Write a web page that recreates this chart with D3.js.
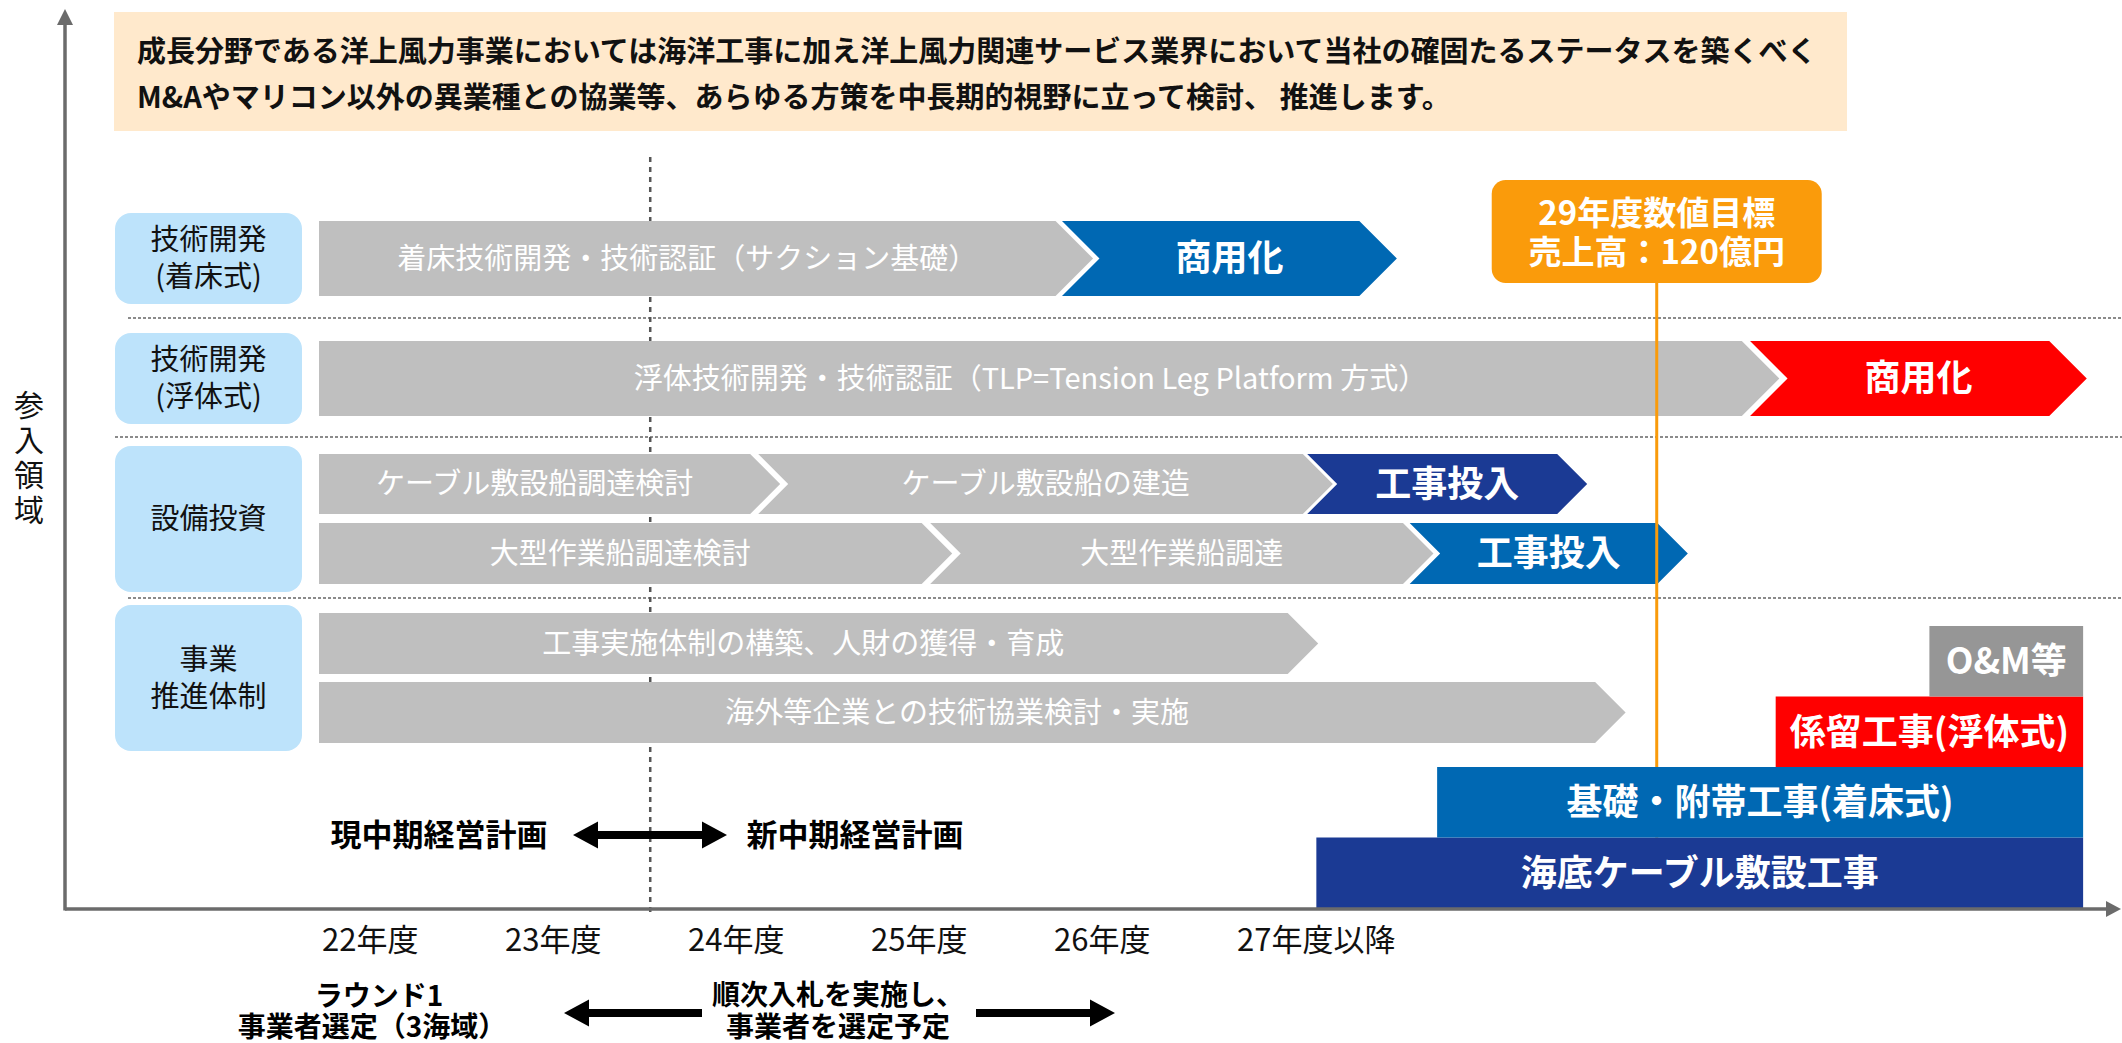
<!DOCTYPE html>
<html>
<head>
<meta charset="utf-8">
<script src="https://cdn.jsdelivr.net/npm/d3@7"></script>
<style>
  body { margin: 0; background: #fff; }
  svg { display: block; font-family: "Noto Sans CJK JP", "Noto Sans", sans-serif; }
</style>
</head>
<body>
<svg id="chart" width="2122" height="1043"></svg>
<script>
const headline = [
  '成長分野である洋上風力事業においては海洋工事に加え洋上風力関連サービス業界において当社の確固たるステータスを築くべく',
  'M&Aやマリコン以外の異業種との協業等、あらゆる方策を中長期的視野に立って検討、 推進します。'
];
const yearValues = [22, 23, 24, 25, 26, 27];
const yearLabels = ['22年度', '23年度', '24年度', '25年度', '26年度', '27年度以降'];

const lanes = ['fixed', 'floating', 'cableShip', 'workShip', 'org', 'partner'];
const groupLabels = [['技術開発', '(着床式)'], ['技術開発', '(浮体式)'], ['設備投資'], ['事業', '推進体制']];
const groupLanes = [['fixed', 'fixed'], ['floating', 'floating'], ['cableShip', 'workShip'], ['org', 'partner']];

// from / to in fiscal-year units (to = arrow tip)
const segments = [
  {lane: 'fixed', text: '着床技術開発・技術認証（サクション基礎）', from: 22, to: 26.23, kind: 'study'},
  {lane: 'fixed', text: '商用化', from: 26.06, to: 27.89, kind: 'fixedGo'},
  {lane: 'floating', text: '浮体技術開発・技術認証（TLP=Tension Leg Platform 方式）', from: 22, to: 29.98, kind: 'study'},
  {lane: 'floating', text: '商用化', from: 29.82, to: 31.66, kind: 'floatGo'},
  {lane: 'cableShip', text: 'ケーブル敷設船調達検討', from: 22, to: 24.52, kind: 'study'},
  {lane: 'cableShip', text: 'ケーブル敷設船の建造', from: 24.40, to: 27.54, kind: 'study'},
  {lane: 'cableShip', text: '工事投入', from: 27.40, to: 28.93, kind: 'cableGo'},
  {lane: 'workShip', text: '大型作業船調達検討', from: 22, to: 25.46, kind: 'study'},
  {lane: 'workShip', text: '大型作業船調達', from: 25.34, to: 28.09, kind: 'study'},
  {lane: 'workShip', text: '工事投入', from: 27.96, to: 29.48, kind: 'fixedGo'},
  {lane: 'org', text: '工事実施体制の構築、人財の獲得・育成', from: 22, to: 27.46, kind: 'study'},
  {lane: 'partner', text: '海外等企業との技術協業検討・実施', from: 22, to: 29.14, kind: 'study'}
];

// business stack at the bottom right (level 0 = on the axis)
const stackText = ['海底ケーブル敷設工事', '基礎・附帯工事(着床式)', '係留工事(浮体式)', 'O&M等'];
const stackFrom = [27.45, 28.11, 29.96, 30.80];
const stackTo = [31.64, 31.64, 31.64, 31.64];
const stackKind = ['cableGo', 'fixedGo', 'floatGo', 'om'];

const targetYear = 29.31;
const targetLines = ['29年度数値目標', '売上高：120億円'];
const planSplitYear = 23.81;

// --- layout ---
const svg = d3.select('#chart');
const x = d3.scaleLinear().domain([22, 27]).range([319, 1234]);
const laneTop = d3.scaleOrdinal().domain(lanes).range([221, 341, 454, 523, 613, 682]);
const laneH = d3.scaleOrdinal().domain(lanes).range([75, 75, 60, 61, 61, 61]);
const level = d3.scaleLinear().domain([0, 4]).range([908, 626]);
const color = d3.scaleOrdinal()
  .domain(['study', 'fixedGo', 'floatGo', 'cableGo', 'om'])
  .range(['#bfbfbf', '#0068b3', '#ff0000', '#1b3a94', '#969696']);
const axisY = 909, axisX = 65;

function chevron(x0, x1, top, h, notch) {
  const d = h * 0.5, m = top + h / 2;
  return notch
    ? `M${x0},${top}L${x1 - d},${top}L${x1},${m}L${x1 - d},${top + h}L${x0},${top + h}L${x0 + d},${m}Z`
    : `M${x0},${top}L${x1 - d},${top}L${x1},${m}L${x1 - d},${top + h}L${x0},${top + h}Z`;
}

// headline box
svg.append('rect').attr('x', 114).attr('y', 12).attr('width', 1733).attr('height', 119).attr('fill', '#ffe9cc');
svg.append('g').selectAll('text').data(headline).join('text')
  .attr('x', 137).attr('y', (d, i) => 52 + i * 46)
  .attr('dy', '0.36em')
  .attr('font-size', 29).attr('font-weight', 'bold').attr('fill', '#111')
  .text(d => d);

// dashed separators between groups
const sepY = [318, 437, 598];
svg.append('g').selectAll('line').data(sepY).join('line')
  .attr('x1', (d, i) => i === 1 ? 115 : 128).attr('x2', 2122)
  .attr('y1', d => d).attr('y2', d => d)
  .attr('stroke', '#666').attr('stroke-width', 1.5).attr('stroke-dasharray', '3,2');

// plan split (dotted vertical)
svg.append('line')
  .attr('x1', x(planSplitYear)).attr('x2', x(planSplitYear))
  .attr('y1', 157).attr('y2', 914)
  .attr('stroke', '#555').attr('stroke-width', 2.5).attr('stroke-dasharray', '5,5');

// group label boxes
const gl = svg.append('g').selectAll('g').data(groupLabels).join('g');
gl.append('rect')
  .attr('x', 115).attr('width', 187).attr('rx', 16)
  .attr('y', (d, i) => laneTop(groupLanes[i][0]) - 8)
  .attr('height', (d, i) => laneTop(groupLanes[i][1]) + laneH(groupLanes[i][1]) + 8 - (laneTop(groupLanes[i][0]) - 8))
  .attr('fill', '#bde3fb');
gl.each(function (d, i) {
  const top = laneTop(groupLanes[i][0]) - 8;
  const bot = laneTop(groupLanes[i][1]) + laneH(groupLanes[i][1]) + 8;
  const mid = (top + bot) / 2;
  d3.select(this).selectAll('text').data(d).join('text')
    .attr('x', 208.5)
    .attr('y', (t, j) => mid + (j - (d.length - 1) / 2) * 37)
    .attr('dy', '0.36em').attr('text-anchor', 'middle')
    .attr('font-size', 29).attr('fill', '#111')
    .text(t => t);
});

// roadmap arrows
const seg = svg.append('g').selectAll('g').data(segments).join('g');
seg.append('path')
  .attr('d', d => chevron(x(d.from), x(d.to), laneTop(d.lane), laneH(d.lane), d.from > 22))
  .attr('fill', d => color(d.kind));
seg.append('text')
  .attr('x', d => d.from > 22 ? (x(d.from) + x(d.to)) / 2 : (x(d.from) + x(d.to) - laneH(d.lane) / 2) / 2)
  .attr('y', d => laneTop(d.lane) + laneH(d.lane) / 2)
  .attr('dy', '0.36em').attr('text-anchor', 'middle')
  .attr('fill', '#fff')
  .attr('font-size', d => d.kind === 'study' ? 29 : 36)
  .attr('font-weight', d => d.kind === 'study' ? 'normal' : 'bold')
  .text(d => d.text);

// target line + box
svg.append('line')
  .attr('x1', x(targetYear)).attr('x2', x(targetYear))
  .attr('y1', 283).attr('y2', level(1))
  .attr('stroke', '#f99b0b').attr('stroke-width', 3);
svg.append('rect')
  .attr('x', x(targetYear) - 165).attr('y', 180).attr('width', 330).attr('height', 103).attr('rx', 14)
  .attr('fill', '#fa9b0b');
svg.append('g').selectAll('text').data(targetLines).join('text')
  .attr('x', x(targetYear)).attr('y', (d, i) => 213 + i * 39)
  .attr('dy', '0.36em').attr('text-anchor', 'middle')
  .attr('font-size', 33).attr('font-weight', 'bold').attr('fill', '#fff')
  .text(d => d);

// business stack
const st = svg.append('g').selectAll('g').data(stackText).join('g');
st.append('rect')
  .attr('x', (d, i) => x(stackFrom[i]))
  .attr('width', (d, i) => x(stackTo[i]) - x(stackFrom[i]))
  .attr('y', (d, i) => level(i + 1))
  .attr('height', (d, i) => level(i) - level(i + 1))
  .attr('fill', (d, i) => color(stackKind[i]));
st.append('text')
  .attr('x', (d, i) => (x(stackFrom[i]) + x(stackTo[i])) / 2)
  .attr('y', (d, i) => (level(i) + level(i + 1)) / 2)
  .attr('dy', '0.36em').attr('text-anchor', 'middle')
  .attr('font-size', 36).attr('font-weight', 'bold').attr('fill', '#fff')
  .text(d => d);

// axes
svg.append('line').attr('x1', axisX).attr('x2', axisX).attr('y1', axisY + 1.5).attr('y2', 22)
  .attr('stroke', '#6b6b6b').attr('stroke-width', 3.5);
svg.append('path').attr('d', `M${axisX},9L${axisX - 8},25L${axisX + 8},25Z`).attr('fill', '#6b6b6b');
svg.append('line').attr('x1', axisX).attr('x2', 2108).attr('y1', axisY).attr('y2', axisY)
  .attr('stroke', '#6b6b6b').attr('stroke-width', 3.5);
svg.append('path').attr('d', `M2121,${axisY}L2106,${axisY - 8}L2106,${axisY + 8}Z`).attr('fill', '#6b6b6b');

// vertical axis title, set in vertical writing
svg.append('text')
  .attr('x', 29).attr('y', 390)
  .attr('font-size', 30).attr('fill', '#111')
  .style('writing-mode', 'vertical-rl').style('text-orientation', 'upright')
  .attr('letter-spacing', 5)
  .text('参入領域');

svg.append('g').selectAll('text').data(yearLabels).join('text')
  .attr('x', (d, i) => x(yearValues[i]) + 3)
  .attr('y', 940).attr('dy', '0.36em')
  .attr('font-size', 31).attr('fill', '#111')
  .text(d => d);

// plan / bidding annotations
function arrow(x1, x2, y, both) {
  const hl = 25, hw = 13.5, sw = 4;
  const dir = Math.sign(x2 - x1);
  const b2 = x2 - dir * hl, b1 = both ? x1 + dir * hl : x1;
  let p = `M${x2},${y}L${b2},${y - hw}L${b2},${y - sw}L${b1},${y - sw}`;
  p += both ? `L${b1},${y - hw}L${x1},${y}L${b1},${y + hw}` : '';
  p += `L${b1},${y + sw}L${b2},${y + sw}L${b2},${y + hw}Z`;
  return p;
}
svg.append('path').attr('d', arrow(573, 727, 835, true)).attr('fill', '#000');
svg.append('path').attr('d', arrow(702, 564, 1013, false)).attr('fill', '#000');
svg.append('path').attr('d', arrow(976, 1115, 1013, false)).attr('fill', '#000');

const notes = [
  {t: '現中期経営計画', x: 439, y: 835, s: 31},
  {t: '新中期経営計画', x: 855, y: 835, s: 31},
  {t: 'ラウンド1', x: 379, y: 996, s: 28},
  {t: '事業者選定（3海域）', x: 372, y: 1027, s: 28},
  {t: '順次入札を実施し、', x: 838, y: 995, s: 28},
  {t: '事業者を選定予定', x: 838, y: 1027, s: 28}
];
svg.append('g').selectAll('text').data(notes).join('text')
  .attr('x', d => d.x).attr('y', d => d.y).attr('dy', '0.36em')
  .attr('text-anchor', 'middle')
  .attr('font-size', d => d.s).attr('font-weight', 'bold').attr('fill', '#000')
  .text(d => d.t);
</script>
</body>
</html>
